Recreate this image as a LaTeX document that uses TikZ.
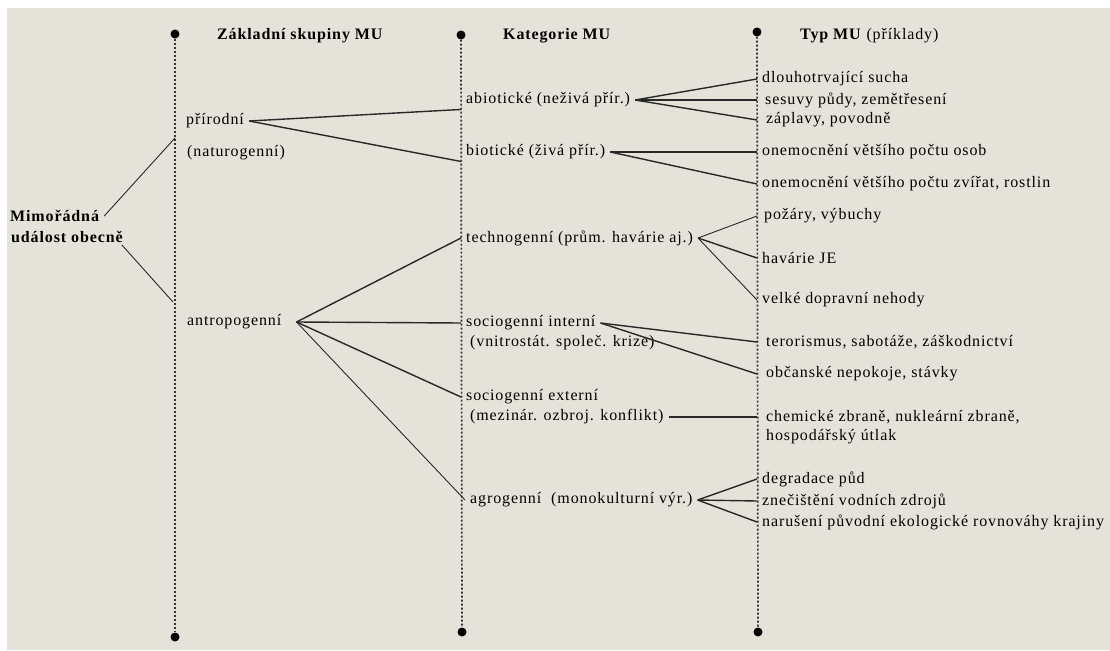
\documentclass[tikz,border=0pt]{standalone}
\usepackage{fontspec}
\setmainfont{Liberation Serif}[LetterSpace=5.5]
\definecolor{paper}{RGB}{229,226,217}
\definecolor{ink}{RGB}{40,40,40}
\tikzset{%
  txt/.style={anchor=west, inner xsep=5pt, inner ysep=2pt, font=\fontsize{16}{19}\selectfont},
  boldtxt/.style={txt, font=\fontsize{16}{19}\selectfont\bfseries},
  head/.style={anchor=west, inner sep=0pt, font=\fontsize{16}{19}\selectfont\bfseries},
  colline/.style={dash pattern=on 2pt off 2pt, line width=1.7pt, black!80},
  link/.style={draw=ink, line width=1.4pt},
  thinlink/.style={draw=ink, line width=0.9pt},
  axisdot/.style={circle, fill=black, inner sep=0pt, minimum size=9pt}
}

\begin{document}
\begin{tikzpicture}[x=1pt, y=-1pt]

\fill[white] (0,0) rectangle (1110,650);
\fill[paper] (7,8) rectangle (1110,650);
\useasboundingbox (0,0) rectangle (1110,650);

% the three columns
\node[axisdot] (top1) at (175,34) {};
\node[axisdot] (bot1) at (175,637) {};
\node[axisdot] (top2) at (461,35) {};
\node[axisdot] (bot2) at (462,632) {};
\node[axisdot] (top3) at (757,32) {};
\node[axisdot] (bot3) at (758,632) {};
\draw[colline] (top1) -- (bot1);
\draw[colline] (top2) -- (bot2);
\draw[colline] (top3) -- (bot3);

\node[head] (h1) at (217,36) {Základní skupiny MU};
\node[head] (h2) at (503,36) {Kategorie MU};
\node[head] (h3) at (800,36) {Typ MU \textmd{(příklady)}};

% root
\node[boldtxt] (mu1) at (5,216) {Mimořádná};
\node[boldtxt] (mu2) at (6,237) {událost obecně};
\coordinate (j1) at (175,138);
\coordinate (j2) at (173,302);

% groups
\node[txt] (prir) at (181,121) {přírodní};
\node[txt] (nat) at (182,153) {(naturogenní)};
\node[txt] (antro) at (182,322) {antropogenní};
\coordinate (ar) at ([xshift=10pt]antro.east);

% categories
\node[txt] (abio) at (461,100) {abiotické (neživá přír.)};
\node[txt] (bio) at (461,152) {biotické (živá přír.)};
\node[txt] (tech) at (461,238) {technogenní (prům. havárie aj.)};
\node[txt] (soi) at (461,323) {sociogenní interní};
\node[txt] (soi2) at (465,343) {(vnitrostát. společ. krize)};
\node[txt] (soe) at (461,397) {sociogenní externí};
\node[txt] (soe2) at (465,417) {(mezinár. ozbroj. konflikt)};
\node[txt] (agro) at (465,500) {agrogenní\hspace{10pt}(monokulturní výr.)};

% types
\node[txt] (dlou) at (757,79) {dlouhotrvající sucha};
\node[txt] (sesu) at (757,100) {\hspace{3pt}sesuvy půdy, zemětřesení};
\node[txt] (zapl) at (757,120) {\hspace{4pt}záplavy, povodně};
\node[txt] (osob) at (757,152) {onemocnění většího počtu osob};
\node[txt] (zvir) at (757,184) {onemocnění většího počtu zvířat, rostlin};
\node[txt] (poz) at (757,216) {\hspace{2pt}požáry, výbuchy};
\node[txt] (jad) at (757,258) {havárie JE};
\node[txt] (dopr) at (757,300) {velké dopravní nehody};
\node[txt] (teror) at (757,342) {\hspace{4pt}terorismus, sabotáže, záškodnictví};
\node[txt] (obc) at (757,374) {\hspace{4pt}občanské nepokoje, stávky};
\node[txt] (chem) at (757,417) {\hspace{4pt}chemické zbraně, nukleární zbraně,};
\node[txt] (chem2) at (757,437) {\hspace{4pt}hospodářský útlak};
\node[txt] (degr) at (757,479) {degradace půd};
\node[txt] (znec) at (757,501) {znečištění vodních zdrojů};
\node[txt] (narus) at (757,522) {narušení původní ekologické rovnováhy krajiny};

% connectors
\draw[thinlink] (mu1.east) -- (j1);
\draw[thinlink] ([xshift=-6pt]mu2.south east) -- (j2);

\draw[link] (prir.east) -- (abio.south west);
\draw[link] (prir.east) -- (bio.south west);

\draw[link] (ar) -- (tech.west);
\draw[link] (ar) -- (soi.west);
\draw[link] (ar) -- (soe.west);
\draw[thinlink] (ar) -- (agro.west);

\draw[link] (abio.east) -- (dlou.west);
\draw[link] (abio.east) -- (sesu.west);
\draw[link] (abio.east) -- (zapl.west);
\draw[link] (bio.east) -- (osob.west);
\draw[link] (bio.east) -- (zvir.west);

\draw[thinlink] (tech.east) -- (poz.west);
\draw[link] (tech.east) -- (jad.west);
\draw[thinlink] (tech.east) -- (dopr.west);

\draw[link] (soi.east) -- (teror.west);
\draw[link] (soi.east) -- (obc.west);
\draw[link] (soe2.east) -- (chem.west);

\draw[link] (agro.east) -- (degr.west);
\draw[link] (agro.east) -- (znec.west);
\draw[link] (agro.east) -- (narus.west);

\end{tikzpicture}
\end{document}
